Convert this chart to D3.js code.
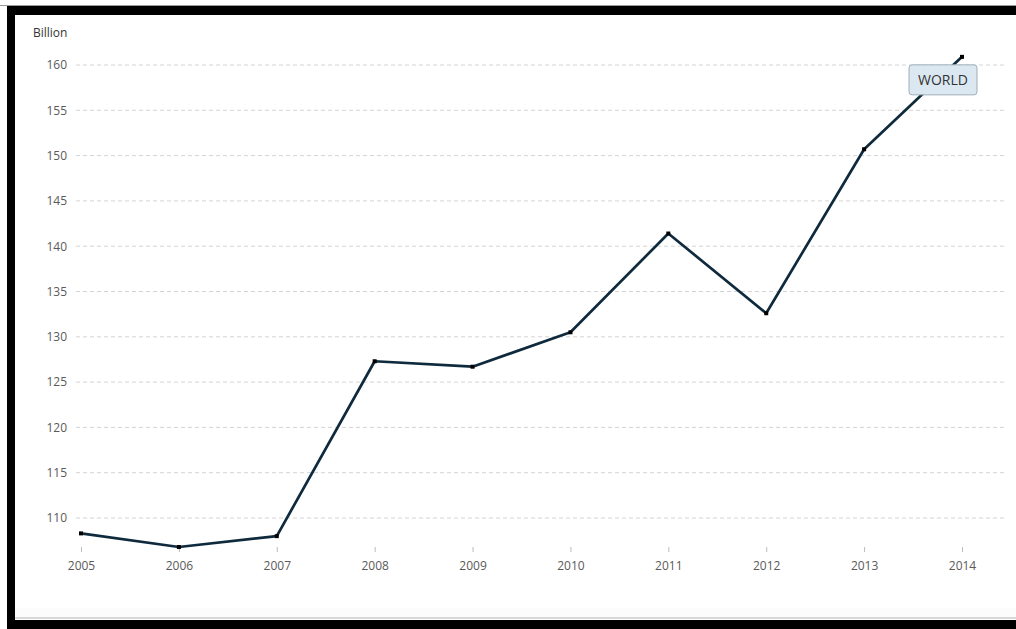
<!DOCTYPE html>
<html>
<head>
<meta charset="utf-8">
<script src="https://cdn.jsdelivr.net/npm/d3@7"></script>
<style>
  body { margin: 0; background: #fff; }
  svg { display: block; font-family: "Open Sans", sans-serif; }
</style>
</head>
<body>
<svg id="chart" width="1016" height="629"></svg>
<script>
// данные
const years = [2005, 2006, 2007, 2008, 2009, 2010, 2011, 2012, 2013, 2014]
const values = [108.3, 106.8, 108.0, 127.3, 126.7, 130.5, 141.4, 132.6, 150.7, 160.9]
const yTicks = [110, 115, 120, 125, 130, 135, 140, 145, 150, 155, 160]
const seriesName = 'WORLD'
const unitLabel = 'Billion'

const svg = d3.select('#chart')

// рамка скриншота
svg.append('rect').attr('x', 0).attr('y', 5).attr('width', 1016).attr('height', 1).attr('fill', '#999')
svg.append('rect').attr('x', 7).attr('y', 6).attr('width', 1009).attr('height', 9).attr('fill', '#000')
svg.append('rect').attr('x', 7).attr('y', 6).attr('width', 8).attr('height', 623).attr('fill', '#000')
svg.append('rect').attr('x', 15).attr('y', 608).attr('width', 1001).attr('height', 9).attr('fill', '#fcfcfc')
svg.append('rect').attr('x', 15).attr('y', 617).attr('width', 1001).attr('height', 2).attr('fill', '#d8d8d8')
svg.append('rect').attr('x', 7).attr('y', 620).attr('width', 1009).attr('height', 9).attr('fill', '#000')

// шкалы
const xScale = d3.scaleLinear().domain([2005, 2014]).range([81, 962])
const yScale = d3.scaleLinear().domain([110, 160]).range([518, 65])

// сетка
svg.append('g')
  .selectAll('line')
  .data(yTicks)
  .enter()
  .append('line')
  .attr('x1', 76)
  .attr('x2', 1005)
  .attr('y1', d => yScale(d))
  .attr('y2', d => yScale(d))
  .attr('stroke', '#d4d4d4')
  .attr('stroke-width', 1)
  .attr('stroke-dasharray', '4,3')

// ось Y
const yAxis = svg.append('g')
  .attr('transform', 'translate(67,0)')
  .call(d3.axisLeft(yScale).tickValues(yTicks).tickSize(0).tickPadding(0))
yAxis.select('.domain').remove()
yAxis.selectAll('text')
  .attr('fill', '#5a5a5a')
  .style('font-size', '12px')
  .style('font-family', '"Open Sans", sans-serif')

svg.append('text')
  .attr('x', 33)
  .attr('y', 37)
  .attr('fill', '#333')
  .style('font-size', '12px')
  .text(unitLabel)

// ось X
const xAxis = svg.append('g')
  .attr('transform', 'translate(0,547)')
  .call(d3.axisBottom(xScale).tickValues(years).tickFormat(d3.format('d')).tickSize(5).tickPadding(9))
xAxis.select('.domain').remove()
xAxis.selectAll('line').attr('stroke', '#bbb')
xAxis.selectAll('text')
  .attr('fill', '#5a5a5a')
  .style('font-size', '12px')
  .style('font-family', '"Open Sans", sans-serif')

// линия
const points = years.map((y, i) => ({ year: y, value: values[i] }))
const line = d3.line()
  .x(d => xScale(d.year))
  .y(d => yScale(d.value))

svg.append('path')
  .datum(points)
  .attr('d', line)
  .attr('fill', 'none')
  .attr('stroke', '#0f2a3d')
  .attr('stroke-width', 2.7)
  .attr('stroke-linejoin', 'round')

svg.append('g')
  .selectAll('rect')
  .data(points)
  .enter()
  .append('rect')
  .attr('x', d => xScale(d.year) - 2)
  .attr('y', d => yScale(d.value) - 2)
  .attr('width', 4)
  .attr('height', 4)
  .attr('fill', '#000')

// подпись серии
const last = points[points.length - 1]
const lbl = svg.append('g')
  .attr('transform', 'translate(' + (xScale(last.year) - 53) + ',' + (yScale(last.value) + 8) + ')')
lbl.append('rect')
  .attr('width', 68)
  .attr('height', 30)
  .attr('rx', 3)
  .attr('fill', '#dbe8f2')
  .attr('stroke', '#a0aeb8')
lbl.append('text')
  .attr('x', 34)
  .attr('y', 20)
  .attr('text-anchor', 'middle')
  .attr('fill', '#333')
  .style('font-size', '14px')
  .text(seriesName)
</script>
</body>
</html>
